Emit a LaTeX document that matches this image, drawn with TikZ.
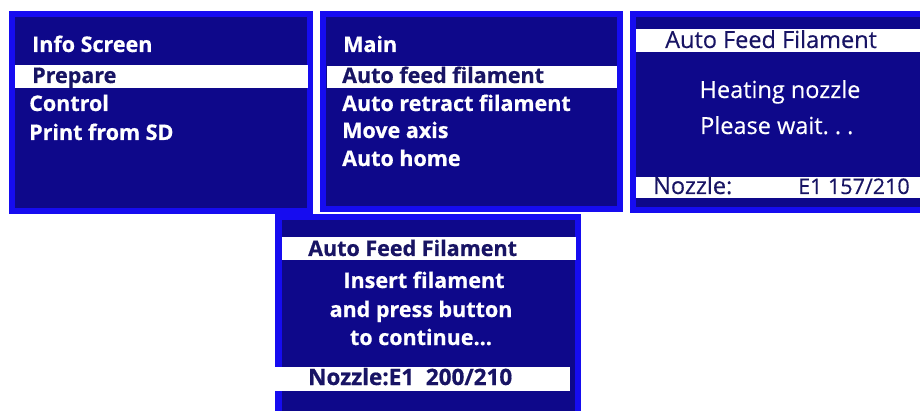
\documentclass[tikz,border=0pt]{standalone}
\usepackage{fontspec}
\setmainfont{Open Sans}[BoldFeatures={FakeBold=0.6}]
\newfontfamily\medium{Open Sans}[FakeBold=0.3]
\definecolor{rim}{RGB}{22,12,240}
\definecolor{screen}{RGB}{14,8,138}
\definecolor{ink}{RGB}{24,20,100}
\tikzset{
  lcd/.style={fill=rim},
  face/.style={fill=screen},
  bar/.style={fill=white},
  lbl/.style={inner sep=0pt, anchor=base west, text=white, font=\bfseries\fontsize{21.5}{21.5}\selectfont},
  sel/.style={lbl, text=ink},
  thin/.style={lbl, font=\medium\fontsize{23.5}{23.5}\selectfont},
}
\newcommand\dotgap{\hspace{6pt}}
\begin{document}
\begin{tikzpicture}[x=1pt,y=-1pt]
\useasboundingbox (0,0) rectangle (920,411);
\clip (0,0) rectangle (920,411);

% screen 1: info screen
\fill[lcd] (9,11) rectangle (313,214);
\fill[face] (15,17) rectangle (307,208);
\fill[bar] (15,65) rectangle (308,88);
\node[lbl] (s1title) at (32,52) {Info Screen};
\node[sel] (s1prep) at (32,83) {Prepare};
\node[lbl] (s1ctrl) at (29,111) {Control};
\node[lbl] (s1sd) at (29,140) {Print from SD};

% screen 2: prepare menu
\fill[lcd] (320,11) rectangle (623,212);
\fill[face] (326,17) rectangle (617,206);
\fill[bar] (327,66) rectangle (617,88);
\node[lbl] (s2title) at (343,52) {Main};
\node[sel] (s2feed) at (342,83) {Auto feed filament};
\node[lbl] (s2retr) at (342,111) {Auto retract filament};
\node[lbl] (s2move) at (342,138) {Move axis};
\node[lbl] (s2home) at (342,166) {Auto home};

% screen 3: heating
\fill[lcd] (630,11) rectangle (933,213);
\fill[face] (636,17) rectangle (927,207);
\fill[bar] (636,29) rectangle (933,52);
\fill[bar] (636,177) rectangle (933,198);
\node[thin, text=ink] (s3title) at (665,48) {Auto Feed Filament};
\node[thin, anchor=base] (s3heat) at (780,98) {Heating nozzle};
\node[thin] (s3wait) at (700,134) {Please wait.\dotgap.\dotgap.};
\node[thin, text=ink] (s3noz) at (653,194) {Nozzle:};
\node[thin, text=ink, font=\medium\fontsize{21.5}{21.5}\selectfont] (s3temp) at (798,194) {E1 157/210};

% screen 4: insert filament
\fill[lcd] (275,214) rectangle (581,420);
\fill[face] (282,220) rectangle (575,420);
\fill[bar] (282,237) rectangle (576,260);
\fill[bar] (275,367) rectangle (570,391);
\node[sel] (s4title) at (308,256) {Auto Feed Filament};
\node[lbl, anchor=base] (s4ins) at (424,288) {Insert filament};
\node[lbl, anchor=base] (s4press) at (421,317) {and press button};
\node[lbl, anchor=base] (s4cont) at (421,345) {to continue...};
\node[sel, font=\bfseries\fontsize{22.5}{22.5}\selectfont] (s4noz) at (308,385) {Nozzle:E1\ \ 200/210};
\end{tikzpicture}
\end{document}
